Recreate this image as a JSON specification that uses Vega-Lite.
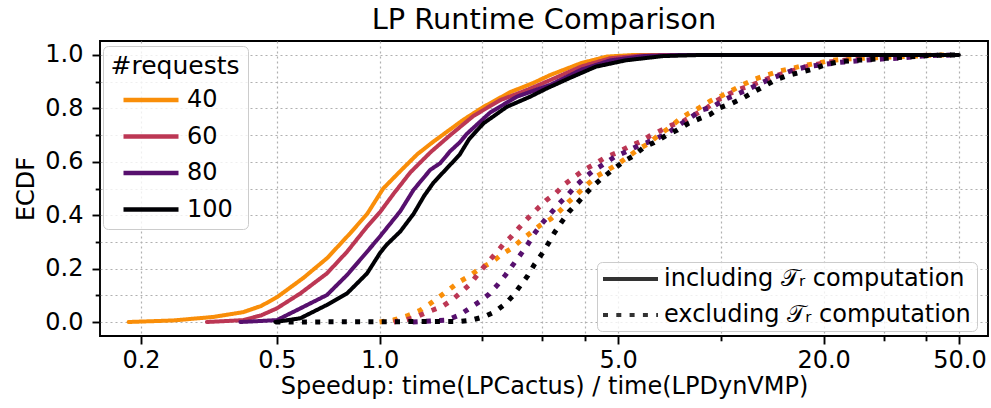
{
  "$schema": "https://vega.github.io/schema/vega-lite/v6.json",
  "width": 888,
  "height": 295,
  "autosize": {"type": "none"},
  "padding": {"left": 100, "top": 41, "right": 3, "bottom": 72},
  "background": "white",
  "title": {"text": "LP Runtime Comparison", "fontSize": 28.8, "font": "DejaVu Sans", "fontWeight": "normal", "color": "#000", "offset": 6, "anchor": "middle"},
  "config": {
    "font": "DejaVu Sans",
    "view": {"stroke": "#000", "strokeWidth": 1.9},
    "axis": {"domain": false, "grid": true, "gridColor": "#b0b0b0", "gridDash": [2, 3], "gridWidth": 1.2, "tickColor": "#000", "tickWidth": 1.9, "labelFontSize": 24, "labelColor": "#000", "labelFont": "DejaVu Sans", "titleFontSize": 24, "titleFontWeight": "normal", "titleColor": "#000", "titleFont": "DejaVu Sans", "labelOverlap": false, "labelFlush": false, "labelBound": false},
    "legend": {"labelFont": "DejaVu Sans", "titleFont": "DejaVu Sans", "labelColor": "#000", "titleColor": "#000", "labelLimit": 500}
  },
  "data": {"values": [
    {"r":"40","t":"including","x":0.184,"y":0},{"r":"40","t":"including","x":0.25,"y":0.006},{"r":"40","t":"including","x":0.326,"y":0.019},{"r":"40","t":"including","x":0.399,"y":0.037},{"r":"40","t":"including","x":0.45,"y":0.06},{"r":"40","t":"including","x":0.502,"y":0.094},{"r":"40","t":"including","x":0.598,"y":0.165},{"r":"40","t":"including","x":0.703,"y":0.24},{"r":"40","t":"including","x":0.821,"y":0.333},{"r":"40","t":"including","x":0.92,"y":0.405},{"r":"40","t":"including","x":0.985,"y":0.465},{"r":"40","t":"including","x":1.025,"y":0.5},{"r":"40","t":"including","x":1.15,"y":0.565},{"r":"40","t":"including","x":1.289,"y":0.628},{"r":"40","t":"including","x":1.436,"y":0.675},{"r":"40","t":"including","x":1.758,"y":0.757},{"r":"40","t":"including","x":2.012,"y":0.805},{"r":"40","t":"including","x":2.414,"y":0.861},{"r":"40","t":"including","x":2.818,"y":0.895},{"r":"40","t":"including","x":3.162,"y":0.925},{"r":"40","t":"including","x":3.884,"y":0.969},{"r":"40","t":"including","x":4.637,"y":0.994},{"r":"40","t":"including","x":5.53,"y":1.0},{"r":"40","t":"including","x":8.0,"y":1.0},
    {"r":"60","t":"including","x":0.312,"y":0},{"r":"60","t":"including","x":0.399,"y":0.007},{"r":"60","t":"including","x":0.45,"y":0.025},{"r":"60","t":"including","x":0.5,"y":0.051},{"r":"60","t":"including","x":0.586,"y":0.107},{"r":"60","t":"including","x":0.701,"y":0.182},{"r":"60","t":"including","x":0.803,"y":0.263},{"r":"60","t":"including","x":0.919,"y":0.357},{"r":"60","t":"including","x":1.005,"y":0.413},{"r":"60","t":"including","x":1.099,"y":0.48},{"r":"60","t":"including","x":1.23,"y":0.56},{"r":"60","t":"including","x":1.408,"y":0.635},{"r":"60","t":"including","x":1.611,"y":0.7},{"r":"60","t":"including","x":1.885,"y":0.772},{"r":"60","t":"including","x":2.257,"y":0.831},{"r":"60","t":"including","x":2.702,"y":0.869},{"r":"60","t":"including","x":3.162,"y":0.906},{"r":"60","t":"including","x":3.884,"y":0.956},{"r":"60","t":"including","x":4.754,"y":0.988},{"r":"60","t":"including","x":5.825,"y":0.998},{"r":"60","t":"including","x":6.77,"y":1.0},{"r":"60","t":"including","x":8.0,"y":1.0},
    {"r":"80","t":"including","x":0.391,"y":0},{"r":"80","t":"including","x":0.5,"y":0.007},{"r":"80","t":"including","x":0.586,"y":0.051},{"r":"80","t":"including","x":0.701,"y":0.101},{"r":"80","t":"including","x":0.803,"y":0.176},{"r":"80","t":"including","x":0.919,"y":0.263},{"r":"80","t":"including","x":1.005,"y":0.322},{"r":"80","t":"including","x":1.15,"y":0.415},{"r":"80","t":"including","x":1.258,"y":0.495},{"r":"80","t":"including","x":1.408,"y":0.57},{"r":"80","t":"including","x":1.506,"y":0.595},{"r":"80","t":"including","x":1.611,"y":0.64},{"r":"80","t":"including","x":1.715,"y":0.672},{"r":"80","t":"including","x":1.803,"y":0.705},{"r":"80","t":"including","x":2.11,"y":0.785},{"r":"80","t":"including","x":2.526,"y":0.844},{"r":"80","t":"including","x":3.162,"y":0.888},{"r":"80","t":"including","x":3.884,"y":0.944},{"r":"80","t":"including","x":4.754,"y":0.98},{"r":"80","t":"including","x":5.959,"y":0.996},{"r":"80","t":"including","x":7.6,"y":1.0},{"r":"80","t":"including","x":9.0,"y":1.0},
    {"r":"100","t":"including","x":0.495,"y":0},{"r":"100","t":"including","x":0.586,"y":0.014},{"r":"100","t":"including","x":0.701,"y":0.064},{"r":"100","t":"including","x":0.803,"y":0.107},{"r":"100","t":"including","x":0.919,"y":0.182},{"r":"100","t":"including","x":1.005,"y":0.26},{"r":"100","t":"including","x":1.05,"y":0.29},{"r":"100","t":"including","x":1.15,"y":0.339},{"r":"100","t":"including","x":1.258,"y":0.405},{"r":"100","t":"including","x":1.35,"y":0.472},{"r":"100","t":"including","x":1.439,"y":0.522},{"r":"100","t":"including","x":1.576,"y":0.576},{"r":"100","t":"including","x":1.715,"y":0.626},{"r":"100","t":"including","x":1.83,"y":0.685},{"r":"100","t":"including","x":2.016,"y":0.744},{"r":"100","t":"including","x":2.361,"y":0.806},{"r":"100","t":"including","x":2.763,"y":0.844},{"r":"100","t":"including","x":3.092,"y":0.875},{"r":"100","t":"including","x":3.594,"y":0.913},{"r":"100","t":"including","x":4.297,"y":0.956},{"r":"100","t":"including","x":5.263,"y":0.98},{"r":"100","t":"including","x":6.771,"y":0.996},{"r":"100","t":"including","x":8.69,"y":1.0},{"r":"100","t":"including","x":49.8,"y":1.0},
    {"r":"40","t":"excluding","x":1.0,"y":0},{"r":"40","t":"excluding","x":1.099,"y":0.0075},{"r":"40","t":"excluding","x":1.203,"y":0.0225},{"r":"40","t":"excluding","x":1.31,"y":0.0425},{"r":"40","t":"excluding","x":1.401,"y":0.0675},{"r":"40","t":"excluding","x":1.499,"y":0.095},{"r":"40","t":"excluding","x":1.603,"y":0.1225},{"r":"40","t":"excluding","x":1.715,"y":0.151},{"r":"40","t":"excluding","x":1.834,"y":0.1725},{"r":"40","t":"excluding","x":1.972,"y":0.201},{"r":"40","t":"excluding","x":2.124,"y":0.2225},{"r":"40","t":"excluding","x":2.268,"y":0.251},{"r":"40","t":"excluding","x":2.435,"y":0.276},{"r":"40","t":"excluding","x":2.605,"y":0.3075},{"r":"40","t":"excluding","x":2.776,"y":0.335},{"r":"40","t":"excluding","x":2.969,"y":0.364},{"r":"40","t":"excluding","x":3.176,"y":0.386},{"r":"40","t":"excluding","x":3.381,"y":0.4175},{"r":"40","t":"excluding","x":3.586,"y":0.451},{"r":"40","t":"excluding","x":3.818,"y":0.4825},{"r":"40","t":"excluding","x":4.066,"y":0.516},{"r":"40","t":"excluding","x":4.349,"y":0.5475},{"r":"40","t":"excluding","x":4.634,"y":0.5675},{"r":"40","t":"excluding","x":5.0,"y":0.5925},{"r":"40","t":"excluding","x":5.396,"y":0.6225},{"r":"40","t":"excluding","x":5.734,"y":0.6475},{"r":"40","t":"excluding","x":6.15,"y":0.669},{"r":"40","t":"excluding","x":6.561,"y":0.7},{"r":"40","t":"excluding","x":7.02,"y":0.725},{"r":"40","t":"excluding","x":7.508,"y":0.756},{"r":"40","t":"excluding","x":8.03,"y":0.781},{"r":"40","t":"excluding","x":8.65,"y":0.8025},{"r":"40","t":"excluding","x":9.299,"y":0.8275},{"r":"40","t":"excluding","x":10.06,"y":0.8475},{"r":"40","t":"excluding","x":10.83,"y":0.869},{"r":"40","t":"excluding","x":11.64,"y":0.89},{"r":"40","t":"excluding","x":12.59,"y":0.91},{"r":"40","t":"excluding","x":13.63,"y":0.925},{"r":"40","t":"excluding","x":14.84,"y":0.94},{"r":"40","t":"excluding","x":16.13,"y":0.95},{"r":"40","t":"excluding","x":17.44,"y":0.96},{"r":"40","t":"excluding","x":19.09,"y":0.969},{"r":"40","t":"excluding","x":20.88,"y":0.979},{"r":"40","t":"excluding","x":22.84,"y":0.984},{"r":"40","t":"excluding","x":25.56,"y":0.9875},{"r":"40","t":"excluding","x":28.61,"y":0.99},{"r":"40","t":"excluding","x":31.93,"y":0.9925},{"r":"40","t":"excluding","x":39.9,"y":0.998},{"r":"40","t":"excluding","x":45.0,"y":1.0},
    {"r":"60","t":"excluding","x":1.1,"y":0},{"r":"60","t":"excluding","x":1.255,"y":0.014},{"r":"60","t":"excluding","x":1.34,"y":0.03},{"r":"60","t":"excluding","x":1.433,"y":0.045},{"r":"60","t":"excluding","x":1.533,"y":0.06},{"r":"60","t":"excluding","x":1.64,"y":0.085},{"r":"60","t":"excluding","x":1.743,"y":0.114},{"r":"60","t":"excluding","x":1.852,"y":0.145},{"r":"60","t":"excluding","x":1.95,"y":0.1825},{"r":"60","t":"excluding","x":2.063,"y":0.22},{"r":"60","t":"excluding","x":2.182,"y":0.255},{"r":"60","t":"excluding","x":2.298,"y":0.289},{"r":"60","t":"excluding","x":2.442,"y":0.3225},{"r":"60","t":"excluding","x":2.57,"y":0.355},{"r":"60","t":"excluding","x":2.72,"y":0.389},{"r":"60","t":"excluding","x":2.89,"y":0.4225},{"r":"60","t":"excluding","x":3.072,"y":0.455},{"r":"60","t":"excluding","x":3.285,"y":0.4825},{"r":"60","t":"excluding","x":3.498,"y":0.5175},{"r":"60","t":"excluding","x":3.716,"y":0.5425},{"r":"60","t":"excluding","x":3.976,"y":0.57},{"r":"60","t":"excluding","x":4.28,"y":0.5925},{"r":"60","t":"excluding","x":4.603,"y":0.6175},{"r":"60","t":"excluding","x":4.977,"y":0.635},{"r":"60","t":"excluding","x":5.396,"y":0.6575},{"r":"60","t":"excluding","x":5.8,"y":0.675},{"r":"60","t":"excluding","x":6.205,"y":0.6975},{"r":"60","t":"excluding","x":6.714,"y":0.719},{"r":"60","t":"excluding","x":7.18,"y":0.7375},{"r":"60","t":"excluding","x":7.768,"y":0.7525},{"r":"60","t":"excluding","x":8.405,"y":0.7775},{"r":"60","t":"excluding","x":9.05,"y":0.8},{"r":"60","t":"excluding","x":9.681,"y":0.8275},{"r":"60","t":"excluding","x":10.41,"y":0.85},{"r":"60","t":"excluding","x":11.25,"y":0.871},{"r":"60","t":"excluding","x":12.18,"y":0.885},{"r":"60","t":"excluding","x":13.18,"y":0.9025},{"r":"60","t":"excluding","x":14.25,"y":0.919},{"r":"60","t":"excluding","x":15.6,"y":0.935},{"r":"60","t":"excluding","x":17.06,"y":0.95},{"r":"60","t":"excluding","x":18.25,"y":0.96},{"r":"60","t":"excluding","x":20.42,"y":0.9725},{"r":"60","t":"excluding","x":23.37,"y":0.981},{"r":"60","t":"excluding","x":26.75,"y":0.9875},{"r":"60","t":"excluding","x":30.6,"y":0.991},{"r":"60","t":"excluding","x":42.1,"y":1.0},
    {"r":"80","t":"excluding","x":1.25,"y":0},{"r":"80","t":"excluding","x":1.408,"y":0.004},{"r":"80","t":"excluding","x":1.576,"y":0.0075},{"r":"80","t":"excluding","x":1.712,"y":0.026},{"r":"80","t":"excluding","x":1.834,"y":0.051},{"r":"80","t":"excluding","x":1.962,"y":0.076},{"r":"80","t":"excluding","x":2.096,"y":0.105},{"r":"80","t":"excluding","x":2.216,"y":0.139},{"r":"80","t":"excluding","x":2.339,"y":0.176},{"r":"80","t":"excluding","x":2.459,"y":0.214},{"r":"80","t":"excluding","x":2.582,"y":0.251},{"r":"80","t":"excluding","x":2.713,"y":0.289},{"r":"80","t":"excluding","x":2.838,"y":0.33},{"r":"80","t":"excluding","x":2.995,"y":0.37},{"r":"80","t":"excluding","x":3.162,"y":0.405},{"r":"80","t":"excluding","x":3.336,"y":0.44},{"r":"80","t":"excluding","x":3.538,"y":0.4725},{"r":"80","t":"excluding","x":3.742,"y":0.5075},{"r":"80","t":"excluding","x":3.976,"y":0.539},{"r":"80","t":"excluding","x":4.233,"y":0.5675},{"r":"80","t":"excluding","x":4.511,"y":0.589},{"r":"80","t":"excluding","x":4.9,"y":0.62},{"r":"80","t":"excluding","x":5.303,"y":0.639},{"r":"80","t":"excluding","x":5.772,"y":0.662},{"r":"80","t":"excluding","x":6.067,"y":0.672},{"r":"80","t":"excluding","x":6.493,"y":0.6875},{"r":"80","t":"excluding","x":7.02,"y":0.71},{"r":"80","t":"excluding","x":7.595,"y":0.74},{"r":"80","t":"excluding","x":8.218,"y":0.769},{"r":"80","t":"excluding","x":8.793,"y":0.794},{"r":"80","t":"excluding","x":9.469,"y":0.806},{"r":"80","t":"excluding","x":10.17,"y":0.831},{"r":"80","t":"excluding","x":11.01,"y":0.85},{"r":"80","t":"excluding","x":11.91,"y":0.869},{"r":"80","t":"excluding","x":12.88,"y":0.89},{"r":"80","t":"excluding","x":13.94,"y":0.91},{"r":"80","t":"excluding","x":15.08,"y":0.9275},{"r":"80","t":"excluding","x":16.31,"y":0.944},{"r":"80","t":"excluding","x":17.84,"y":0.956},{"r":"80","t":"excluding","x":19.52,"y":0.9625},{"r":"80","t":"excluding","x":22.34,"y":0.9725},{"r":"80","t":"excluding","x":25.56,"y":0.979},{"r":"80","t":"excluding","x":29.59,"y":0.985},{"r":"80","t":"excluding","x":32.74,"y":0.9875},{"r":"80","t":"excluding","x":39.9,"y":0.998},{"r":"80","t":"excluding","x":49.8,"y":1.0},
    {"r":"100","t":"excluding","x":0.495,"y":0},{"r":"100","t":"excluding","x":1.715,"y":0.002},{"r":"100","t":"excluding","x":1.865,"y":0.0075},{"r":"100","t":"excluding","x":2.026,"y":0.02},{"r":"100","t":"excluding","x":2.182,"y":0.039},{"r":"100","t":"excluding","x":2.334,"y":0.0675},{"r":"100","t":"excluding","x":2.469,"y":0.101},{"r":"100","t":"excluding","x":2.595,"y":0.139},{"r":"100","t":"excluding","x":2.72,"y":0.174},{"r":"100","t":"excluding","x":2.844,"y":0.216},{"r":"100","t":"excluding","x":2.989,"y":0.255},{"r":"100","t":"excluding","x":3.125,"y":0.295},{"r":"100","t":"excluding","x":3.254,"y":0.335},{"r":"100","t":"excluding","x":3.421,"y":0.376},{"r":"100","t":"excluding","x":3.594,"y":0.414},{"r":"100","t":"excluding","x":3.81,"y":0.4475},{"r":"100","t":"excluding","x":4.03,"y":0.4825},{"r":"100","t":"excluding","x":4.28,"y":0.516},{"r":"100","t":"excluding","x":4.55,"y":0.545},{"r":"100","t":"excluding","x":4.844,"y":0.5725},{"r":"100","t":"excluding","x":5.183,"y":0.601},{"r":"100","t":"excluding","x":5.544,"y":0.622},{"r":"100","t":"excluding","x":5.931,"y":0.653},{"r":"100","t":"excluding","x":6.375,"y":0.6725},{"r":"100","t":"excluding","x":6.946,"y":0.7},{"r":"100","t":"excluding","x":7.458,"y":0.719},{"r":"100","t":"excluding","x":8.03,"y":0.744},{"r":"100","t":"excluding","x":8.69,"y":0.7625},{"r":"100","t":"excluding","x":9.299,"y":0.7775},{"r":"100","t":"excluding","x":9.947,"y":0.8025},{"r":"100","t":"excluding","x":10.76,"y":0.819},{"r":"100","t":"excluding","x":11.64,"y":0.84},{"r":"100","t":"excluding","x":12.51,"y":0.8625},{"r":"100","t":"excluding","x":13.48,"y":0.885},{"r":"100","t":"excluding","x":14.41,"y":0.906},{"r":"100","t":"excluding","x":15.6,"y":0.9225},{"r":"100","t":"excluding","x":17.06,"y":0.935},{"r":"100","t":"excluding","x":18.66,"y":0.9475},{"r":"100","t":"excluding","x":20.42,"y":0.965},{"r":"100","t":"excluding","x":22.34,"y":0.975},{"r":"100","t":"excluding","x":25.56,"y":0.981},{"r":"100","t":"excluding","x":30.6,"y":0.9875},{"r":"100","t":"excluding","x":42.1,"y":0.999},{"r":"100","t":"excluding","x":49.8,"y":1.0}
  ]},
  "encoding": {
    "x": {"field": "x", "type": "quantitative", "title": "Speedup: time(LPCactus) / time(LPDynVMP)",
      "scale": {"type": "log", "domain": [0.1517, 60.6], "nice": false},
      "axis": {"values": [0.2, 0.5, 1, 2, 3, 4, 5, 10, 20, 30, 40, 50],
        "labelExpr": "indexof([0.2, 0.5, 1, 5, 20, 50], datum.value) >= 0 ? format(datum.value, '.1f') : ''",
        "tickSize": {"condition": {"test": "indexof([0.2, 0.5, 1, 5, 20, 50], datum.value) >= 0", "value": 8}, "value": 4.8},
        "labelPadding": 4, "titlePadding": 2}},
    "y": {"field": "y", "type": "quantitative", "title": "ECDF",
      "scale": {"domain": [-0.0524, 1.0524], "nice": false, "zero": false},
      "axis": {"values": [0, 0.1, 0.2, 0.3, 0.4, 0.5, 0.6, 0.7, 0.8, 0.9, 1.0],
        "labelExpr": "round(datum.value * 10) % 2 == 0 ? format(datum.value, '.1f') : ''",
        "tickSize": {"condition": {"test": "round(datum.value * 10) % 2 == 0", "value": 8}, "value": 4.8},
        "labelPadding": 9, "titlePadding": 6}},
    "color": {"field": "r", "type": "nominal",
      "scale": {"domain": ["40", "60", "80", "100"], "range": ["#f98e09", "#bc3754", "#57106e", "#000004"]},
      "legend": {"title": "#requests", "orient": "none", "legendX": 3, "legendY": 5, "symbolType": "M-2.5,0H2.5", "symbolSize": 484, "symbolStrokeWidth": 4.5, "symbolOffset": 27, "labelOffset": 22.5, "labelFontSize": 24, "titleFontSize": 25, "titleFontWeight": "normal", "titlePadding": 8, "rowPadding": 10.5, "padding": 7.5, "fillColor": "rgba(255,255,255,0.8)", "strokeColor": "#cccccc", "cornerRadius": 5}},
    "strokeDash": {"field": "t", "type": "nominal",
      "scale": {"domain": ["including", "excluding"], "range": [[1, 0], [5, 8.3]]},
      "legend": {"title": null, "orient": "none", "legendX": 497, "legendY": 221, "symbolType": "M-2.5,0H2.5", "symbolSize": 484, "symbolStrokeWidth": 4, "symbolStrokeColor": "#333333", "symbolOffset": 16.5, "labelOffset": 20.5, "labelFontSize": 24, "rowPadding": 11, "padding": 4, "fillColor": "rgba(255,255,255,0.8)", "strokeColor": "#cccccc", "cornerRadius": 5,
        "labelExpr": "datum.label == 'including' ? 'including  𝒯ᵣ computation' : 'excluding 𝒯ᵣ computation'"}}
  },
  "layer": [
    {"transform": [{"filter": "datum.t == 'excluding'"}], "mark": {"type": "line", "strokeWidth": 5, "strokeCap": "butt", "strokeJoin": "round"}},
    {"transform": [{"filter": "datum.t == 'including'"}], "mark": {"type": "line", "strokeWidth": 4, "strokeCap": "round", "strokeJoin": "round"}}
  ]
}
